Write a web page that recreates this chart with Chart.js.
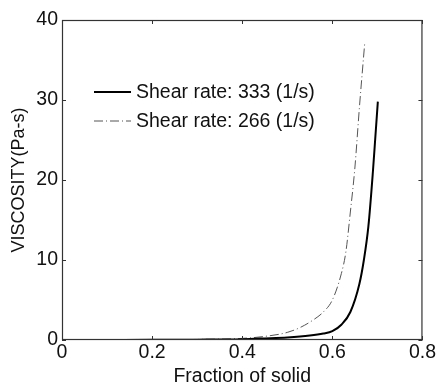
<!DOCTYPE html>
<html>
<head>
<meta charset="utf-8">
<script src="https://cdn.jsdelivr.net/npm/chart.js@4"></script>
<style>
  html, body { margin: 0; padding: 0; background: #fff; }
  canvas { display: block; }
</style>
</head>
<body>
<canvas id="grafico" width="437" height="388"></canvas>
<script>
// datos
const fraccion333 = [0, 0.1, 0.2, 0.3, 0.4, 0.45, 0.5, 0.55, 0.58, 0.6, 0.62, 0.64, 0.66, 0.67, 0.68, 0.69, 0.695, 0.701];
const viscosidad333 = [0, 0.01, 0.02, 0.04, 0.1, 0.2, 0.32, 0.55, 0.8, 1.1, 1.9, 3.5, 7.0, 10.0, 14.2, 21.0, 25.0, 29.8];
const fraccion266 = [0, 0.1, 0.2, 0.3, 0.4, 0.45, 0.5, 0.53, 0.56, 0.58, 0.6, 0.62, 0.63, 0.64, 0.65, 0.66, 0.672];
const viscosidad266 = [0, 0.01, 0.03, 0.07, 0.2, 0.45, 0.95, 1.6, 2.6, 3.5, 5.0, 8.3, 11.0, 16.0, 21.5, 29.0, 37.2];
const etiquetas = ['Shear rate: 333 (1/s)', 'Shear rate: 266 (1/s)'];
const ticksX = [0, 0.2, 0.4, 0.6, 0.8];
const ticksY = [0, 10, 20, 30, 40];

const fuente = '"Liberation Sans", Arial, sans-serif';

function puntos(xs, ys) {
    return xs.map((x, i) => ({ x: x, y: ys[i] }));
}

// caja, marcas hacia dentro y leyenda
const marcoPlugin = {
    id: 'marco',
    afterDraw(chart) {
        const ctx = chart.ctx;
        const a = chart.chartArea;
        const sx = chart.scales.x, sy = chart.scales.y;
        ctx.save();
        ctx.strokeStyle = '#333';
        ctx.lineWidth = 1;
        ctx.beginPath();
        ticksX.forEach(v => {
            const px = Math.round(sx.getPixelForValue(v)) + 0.5;
            ctx.moveTo(px, a.bottom); ctx.lineTo(px, a.bottom - 4);
            ctx.moveTo(px, a.top); ctx.lineTo(px, a.top + 4);
        });
        ticksY.forEach(v => {
            const py = Math.round(sy.getPixelForValue(v)) + 0.5;
            ctx.moveTo(a.left, py); ctx.lineTo(a.left + 4, py);
            ctx.moveTo(a.right, py); ctx.lineTo(a.right - 4, py);
        });
        ctx.stroke();
        ctx.lineWidth = 1.2;
        ctx.strokeRect(a.left + 0.5, a.top + 0.5, a.right - a.left - 1, a.bottom - a.top - 1);

        // leyenda
        ctx.font = '19.5px ' + fuente;
        ctx.textBaseline = 'middle';
        ctx.fillStyle = '#111';
        chart.data.datasets.forEach((ds, i) => {
            const y = 92 + i * 29;
            ctx.strokeStyle = ds.borderColor;
            ctx.lineWidth = ds.borderWidth;
            ctx.setLineDash(ds.borderDash || []);
            ctx.beginPath();
            ctx.moveTo(94, y); ctx.lineTo(131, y);
            ctx.stroke();
            ctx.setLineDash([]);
            ctx.fillText(ds.label, 136, y + 1);
        });
        ctx.restore();
    }
};

const ctx = document.getElementById('grafico').getContext('2d');
new Chart(ctx, {
    type: 'scatter',
    data: {
        datasets: [{
            label: etiquetas[0],
            data: puntos(fraccion333, viscosidad333),
            showLine: true,
            borderColor: '#000',
            borderWidth: 2,
            pointRadius: 0,
            cubicInterpolationMode: 'monotone'
        },
        {
            label: etiquetas[1],
            data: puntos(fraccion266, viscosidad266),
            showLine: true,
            borderColor: '#555',
            borderWidth: 1,
            borderDash: [9, 3, 1, 3],
            pointRadius: 0,
            cubicInterpolationMode: 'monotone'
        }]
    },
    options: {
        responsive: false,
        animation: false,
        layout: { padding: { top: 20, right: 14, left: 0, bottom: 0 } },
        plugins: {
            legend: { display: false },
            tooltip: { enabled: false }
        },
        scales: {
            x: {
                type: 'linear',
                min: 0,
                max: 0.8,
                afterBuildTicks: s => { s.ticks = ticksX.map(v => ({ value: v })); },
                afterFit: s => { s.height = 48; },
                grid: { display: false, drawTicks: false },
                border: { display: false },
                ticks: {
                    color: '#111',
                    padding: 1,
                    maxRotation: 0,
                    font: { family: fuente, size: 19.5 },
                    callback: v => String(v)
                },
                title: {
                    display: true,
                    text: 'Fraction of solid',
                    color: '#111',
                    padding: { top: 0, bottom: 0 },
                    font: { family: fuente, size: 19.5 }
                }
            },
            y: {
                type: 'linear',
                min: 0,
                max: 40,
                afterBuildTicks: s => { s.ticks = ticksY.map(v => ({ value: v })); },
                afterFit: s => { s.width = 62; },
                grid: { display: false, drawTicks: false },
                border: { display: false },
                ticks: {
                    color: '#111',
                    padding: 4,
                    font: { family: fuente, size: 19.5 }
                },
                title: {
                    display: true,
                    text: 'VISCOSITY(Pa-s)',
                    color: '#111',
                    padding: { top: 8, bottom: 0 },
                    font: { family: fuente, size: 18 }
                }
            }
        }
    },
    plugins: [marcoPlugin]
});
</script>
</body>
</html>
